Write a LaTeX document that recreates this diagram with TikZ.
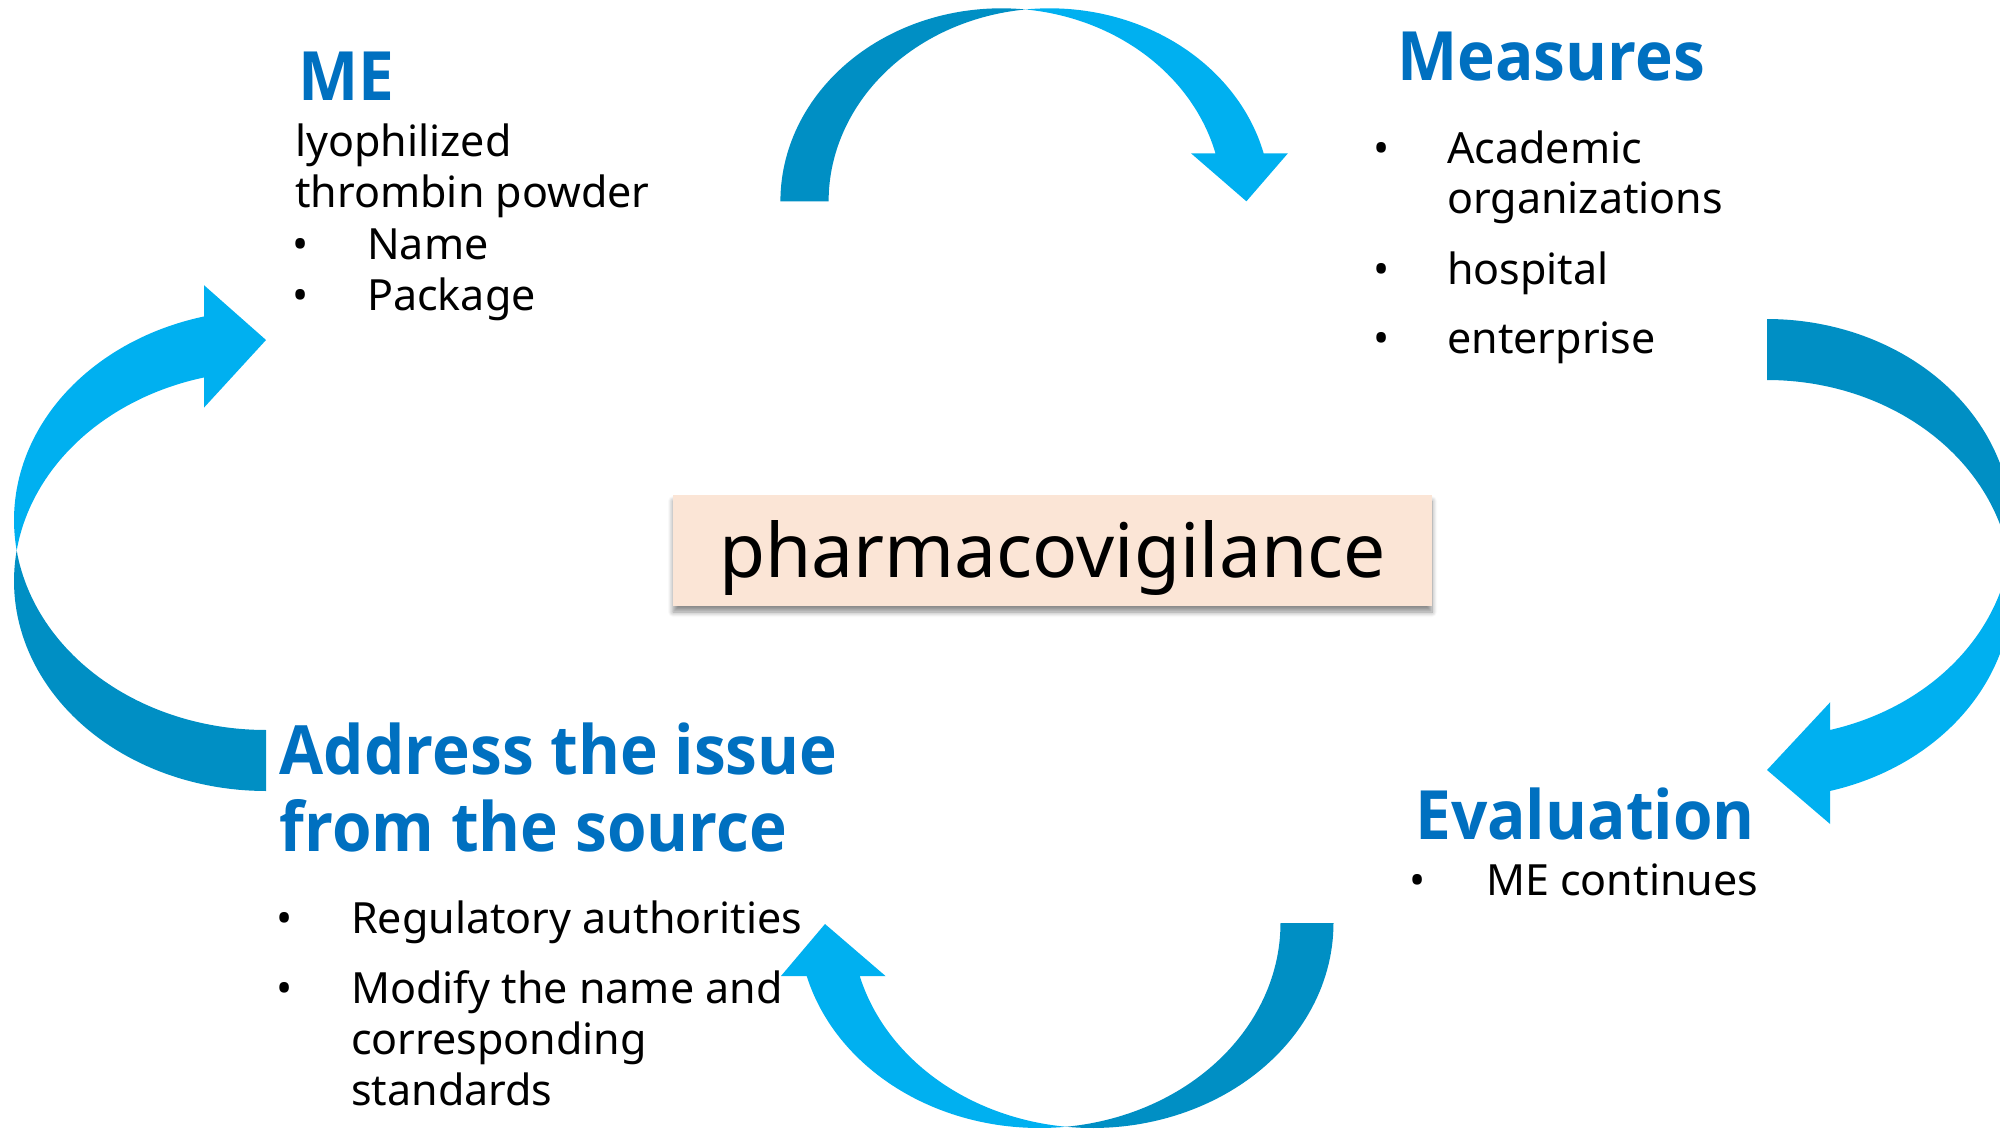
\documentclass[tikz,border=0pt]{standalone}
\usepackage{fontspec}
\setmainfont{Noto Sans}
\newfontfamily\headfont{Open Sans}[FakeStretch=0.94]
\usetikzlibrary{shadows.blur}
\definecolor{arrdark}{HTML}{008FC4}
\definecolor{arrlight}{HTML}{00B0F0}
\definecolor{headblue}{HTML}{0070C0}
\definecolor{boxfill}{HTML}{FBE5D6}
\begin{document}
\begin{tikzpicture}[x=1pt,y=-1pt,
  head/.style={inner sep=0pt, anchor=base west, text=headblue, font=\headfont\bfseries\fontsize{68}{80}\selectfont},
  body/.style={inner sep=0pt, anchor=base west, font=\fontsize{43}{51}\selectfont},
  bul/.style={inner sep=0pt, anchor=base, font=\fontsize{43}{51}\selectfont},
  pvbox/.style={fill=boxfill, inner sep=0pt, minimum width=759pt, minimum height=111pt,
    text height=60pt, text depth=7pt, font=\fontsize{75}{90}\selectfont,
    blur shadow={shadow xshift=0pt, shadow yshift=-6pt, shadow opacity=45, shadow blur steps=8, shadow blur radius=5pt}},
  dk/.style={fill=arrdark},
  lt/.style={fill=arrlight}
]
\useasboundingbox (0,0) rectangle (2000,1132);
\clip (0,0) rectangle (2000,1132);

% top arrow
\fill[dk] plot[domain=180:276.26,samples=60] ({1001.4+221*cos(\x)},{201.3+193*sin(\x)})
  -- plot[domain=263.74:180,samples=60] ({1049.6+221*cos(\x)},{201.3+193*sin(\x)}) -- cycle;
\fill[lt] plot[domain=263.74:345.6,samples=60] ({1049.6+221*cos(\x)},{201.3+193*sin(\x)})
  -- (1287.9,153.3) -- (1246.4,201.3) -- (1191,153.3)
  -- plot[domain=345.6:276.26,samples=60] ({1001.4+221*cos(\x)},{201.3+193*sin(\x)}) -- cycle;

% right arrow
\fill[dk] plot[domain=-90:8.39,samples=60] ({1767+245*cos(\x)},{528+209*sin(\x)})
  -- plot[domain=-8.39:-90,samples=60] ({1767+245*cos(\x)},{589+209*sin(\x)}) -- cycle;
\fill[lt] plot[domain=-8.39:75.1,samples=60] ({1767+245*cos(\x)},{589+209*sin(\x)})
  -- (1830.2,824.1) -- (1767,770) -- (1830.2,702.2)
  -- plot[domain=75.1:8.39,samples=60] ({1767+245*cos(\x)},{528+209*sin(\x)}) -- cycle;

% bottom arrow
\fill[dk] plot[domain=0:96.3,samples=60] ({1092.5+241*cos(\x)},{923+205*sin(\x)})
  -- plot[domain=83.7:0,samples=60] ({1039.5+241*cos(\x)},{923+205*sin(\x)}) -- cycle;
\fill[lt] plot[domain=96.3:165,samples=60] ({1092.5+241*cos(\x)},{923+205*sin(\x)})
  -- (885.5,976) -- (825,924) -- (781,976)
  -- plot[domain=165:83.7,samples=60] ({1039.5+241*cos(\x)},{923+205*sin(\x)}) -- cycle;

% left arrow
\fill[dk] plot[domain=90:188.35,samples=60] ({266+252*cos(\x)},{581+210*sin(\x)})
  -- plot[domain=171.65:90,samples=60] ({266+252*cos(\x)},{520+210*sin(\x)}) -- cycle;
\fill[lt] plot[domain=171.65:255.76,samples=60] ({266+252*cos(\x)},{520+210*sin(\x)})
  -- (204,285.2) -- (266,340) -- (204,407.6)
  -- plot[domain=255.76:188.35,samples=60] ({266+252*cos(\x)},{581+210*sin(\x)}) -- cycle;

% center box
\node[pvbox] (pv) at (1052.5,550.5) {pharmacovigilance};

% ME block
\node[head] (meh) at (298,100) {ME};
\node[body] (me1) at (295,156) {lyophilized};
\node[body] (me2) at (295,207) {thrombin powder};
\node[bul] (meb1) at (301,259) {•};
\node[body] (me3) at (367,259) {Name};
\node[bul] (meb2) at (301,310) {•};
\node[body] (me4) at (367,310) {Package};

% Measures block
\node[head] (msh) at (1397,81) {Measures};
\node[bul] (msb1) at (1382,163) {•};
\node[body] (ms1) at (1447,163) {Academic};
\node[body] (ms1b) at (1447,213) {organizations};
\node[bul] (msb2) at (1382,284) {•};
\node[body] (ms2) at (1447,284) {hospital};
\node[bul] (msb3) at (1382,353) {•};
\node[body] (ms3) at (1447,353) {enterprise};

% Evaluation block
\node[head] (evh) at (1415,839) {Evaluation};
\node[bul] (evb1) at (1418,895) {•};
\node[body] (ev1) at (1486,895) {ME continues};

% Address block
\node[head] (adh1) at (279.6,774) {Address the issue};
\node[head] (adh2) at (279.6,851) {from the source};
\node[bul] (adb1) at (284.5,933) {•};
\node[body] (ad1) at (351,933) {Regulatory authorities};
\node[bul] (adb2) at (284.5,1003) {•};
\node[body] (ad2) at (351,1003) {Modify the name and};
\node[body] (ad2b) at (351,1054) {corresponding};
\node[body] (ad2c) at (351,1105) {standards};
\end{tikzpicture}
\end{document}
